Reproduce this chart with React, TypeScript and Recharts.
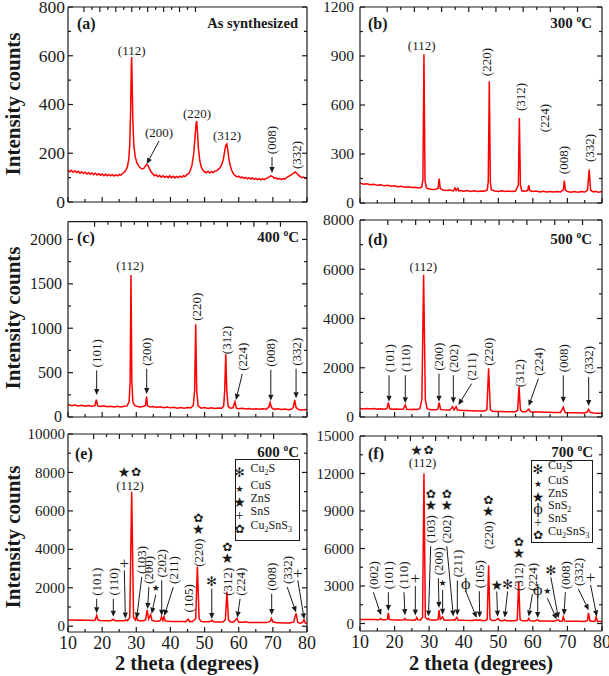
import React from 'react';
import { ComposedChart, Line, XAxis, YAxis, ReferenceLine } from 'recharts';

const SERIF = '"Liberation Serif", "Times New Roman", Times, serif';
const SYM = '"DejaVu Sans", sans-serif';
const INK = '#1a1a1a';
const RED = '#ff0000';

// ---------- ticks ----------
const xTickValues = [10, 15, 20, 25, 30, 35, 40, 45, 50, 55, 60, 65, 70, 75, 80];
const xTickLabels = [10, 20, 30, 40, 50, 60, 70, 80];

const yTicksA = [0, 100, 200, 300, 400, 500, 600, 700, 800];
const yMajorsA = [0, 200, 400, 600, 800];
const yTicksB = [0, 150, 300, 450, 600, 750, 900, 1050, 1200];
const yMajorsB = [0, 300, 600, 900, 1200];
const yTicksC = [0, 250, 500, 750, 1000, 1250, 1500, 1750, 2000];
const yMajorsC = [0, 500, 1000, 1500, 2000];
const yTicksD = [0, 1000, 2000, 3000, 4000, 5000, 6000, 7000, 8000];
const yMajorsD = [0, 2000, 4000, 6000, 8000];
const yTicksE = [0, 1000, 2000, 3000, 4000, 5000, 6000, 7000, 8000, 9000, 10000];
const yMajorsE = [0, 2000, 4000, 6000, 8000, 10000];
const yTicksF = [0, 1500, 3000, 4500, 6000, 7500, 9000, 10500, 12000, 13500, 15000];
const yMajorsF = [0, 3000, 6000, 9000, 12000, 15000];

// ---------- patterns (2theta, counts) ----------
const patternAsSynth: [number, number][] = [
  [10, 132], [10.5, 124], [11, 130], [11.5, 122], [12, 128], [12.5, 121], [13, 126], [13.5, 118], [14, 124], [14.5, 117],
  [15, 122], [15.5, 115], [16, 121], [16.5, 114], [17, 119], [17.5, 112], [18, 118], [18.5, 111], [19, 116], [19.5, 110],
  [20, 115], [20.5, 108], [21, 114], [21.5, 108], [22, 113], [22.5, 107], [23, 112], [23.5, 106], [24, 111], [24.5, 107],
  [25, 113], [25.5, 110], [26, 117], [26.5, 122], [27, 132], [27.4, 145], [27.8, 175], [28.1, 240], [28.35, 380], [28.55, 560],
  [28.65, 595], [28.8, 480], [29.0, 330], [29.3, 230], [29.7, 185], [30.2, 160], [30.7, 148], [31.2, 140], [31.7, 136], [32.2, 138],
  [32.6, 146], [33.0, 154], [33.4, 150], [33.8, 138], [34.3, 125], [34.8, 116], [35.3, 108], [35.8, 112], [36.3, 104], [36.8, 109],
  [37.3, 102], [37.8, 108], [38.3, 101], [38.8, 106], [39.3, 100], [39.8, 107], [40.3, 100], [40.8, 106], [41.3, 99], [41.8, 105],
  [42.3, 100], [42.8, 106], [43.3, 101], [43.8, 108], [44.3, 104], [44.8, 112], [45.3, 116], [45.8, 128], [46.3, 150], [46.8, 195],
  [47.2, 265], [47.5, 320], [47.7, 332], [47.9, 290], [48.2, 220], [48.6, 170], [49.0, 145], [49.5, 130], [50.0, 124], [50.5, 120],
  [51.0, 126], [51.5, 119], [52.0, 125], [52.5, 120], [53.0, 127], [53.5, 128], [54.0, 134], [54.5, 140], [55.0, 152], [55.5, 175],
  [55.9, 210], [56.2, 232], [56.5, 238], [56.8, 215], [57.1, 180], [57.5, 150], [58.0, 128], [58.5, 115], [59.0, 108], [59.5, 103],
  [60, 106], [60.5, 99], [61, 103], [61.5, 97], [62, 101], [62.5, 95], [63, 100], [63.5, 94], [64, 99], [64.5, 93],
  [65, 97], [65.5, 92], [66, 96], [66.5, 91], [67, 95], [67.5, 92], [68, 97], [68.5, 98], [69, 104], [69.5, 107],
  [70, 103], [70.5, 97], [71, 99], [71.5, 93], [72, 97], [72.5, 92], [73, 96], [73.5, 94], [74, 100], [74.5, 104],
  [75, 108], [75.5, 112], [76, 118], [76.5, 123], [77, 118], [77.5, 110], [78, 104], [78.5, 100], [79, 102], [79.5, 97], [80, 99],
];

const pattern300: [number, number][] = [
  [10, 122], [11, 115], [12, 118], [13, 112], [14, 114], [15, 108], [16, 111], [17, 105], [18, 108], [19, 102],
  [20, 106], [21, 100], [22, 103], [23, 97], [24, 100], [25, 95], [26, 97], [27, 92], [27.8, 96], [28.2, 140],
  [28.5, 910], [28.8, 140], [29.2, 92], [30, 86], [31, 82], [32, 84], [32.6, 90], [32.9, 150], [33.2, 88], [34, 80],
  [35, 76], [36, 79], [37, 74], [37.5, 92], [37.8, 76], [38.3, 90], [38.6, 74], [39, 77], [40, 72], [41, 76],
  [42, 71], [43, 75], [44, 70], [45, 74], [46, 72], [46.8, 80], [47.1, 130], [47.4, 745], [47.7, 130], [48, 80],
  [49, 74], [50, 71], [51, 75], [52, 70], [53, 74], [54, 70], [55, 73], [55.8, 110], [56.1, 520], [56.4, 110],
  [56.8, 75], [57.5, 72], [58.5, 76], [58.8, 110], [59.1, 75], [60, 70], [61, 73], [62, 68], [63, 72], [64, 68],
  [65, 71], [66, 67], [67, 71], [68, 68], [68.8, 80], [69.1, 138], [69.4, 80], [70, 70], [71, 66], [72, 70],
  [73, 66], [74, 70], [75, 67], [75.8, 78], [76.3, 205], [76.7, 78], [77.5, 68], [78, 72], [79, 66], [80, 70],
];

const pattern400: [number, number][] = [
  [10, 140], [11, 128], [12, 136], [13, 125], [14, 133], [15, 122], [16, 130], [17, 120], [17.9, 128], [18.3, 195],
  [18.7, 125], [19.5, 118], [20.5, 126], [21.5, 115], [22.5, 122], [23.5, 113], [24.5, 120], [25.5, 112], [26.5, 120], [27.3, 125],
  [27.9, 170], [28.2, 400], [28.45, 1600], [28.7, 400], [29.0, 170], [29.5, 130], [30.2, 120], [31, 114], [32, 118], [32.7, 130],
  [33.0, 230], [33.3, 130], [34, 112], [35, 118], [36, 108], [37, 115], [38, 105], [39, 112], [40, 103], [41, 110],
  [42, 100], [43, 108], [44, 100], [45, 106], [46, 104], [46.7, 130], [47.1, 300], [47.4, 1045], [47.7, 300], [48.1, 125],
  [49, 100], [50, 106], [51, 97], [52, 104], [53, 96], [54, 102], [55, 98], [55.6, 125], [55.9, 300], [56.2, 710],
  [56.5, 300], [56.9, 120], [57.5, 98], [58.3, 104], [58.9, 172], [59.3, 100], [60, 92], [61, 98], [62, 90], [63, 96],
  [64, 88], [65, 94], [66, 87], [67, 92], [68, 88], [68.8, 110], [69.2, 162], [69.6, 105], [70.5, 86], [71.5, 92],
  [72.5, 84], [73.5, 90], [74.5, 82], [75.5, 90], [76.0, 110], [76.4, 192], [76.8, 105], [77.5, 85], [78.5, 80], [79.5, 84], [80, 78],
];

const pattern500: [number, number][] = [
  [10, 350], [11, 330], [12, 345], [13, 325], [14, 340], [15, 320], [16, 335], [17, 318], [17.8, 340], [18.2, 585],
  [18.6, 335], [19.5, 315], [20.5, 328], [21.5, 310], [22.5, 322], [23.1, 490], [23.5, 315], [24.5, 305], [25.5, 318], [26.5, 305],
  [27.3, 340], [27.9, 700], [28.4, 5780], [28.9, 700], [29.4, 340], [30.2, 300], [31, 295], [32, 290], [32.5, 320], [32.9, 585],
  [33.3, 310], [34, 290], [35, 285], [36, 280], [36.8, 420], [37.2, 285], [37.8, 420], [38.2, 280], [39, 272], [40, 265],
  [41, 260], [42, 255], [43, 250], [44, 245], [45, 240], [46, 240], [46.7, 300], [47.2, 1980], [47.7, 300], [48.3, 230],
  [49, 225], [50, 220], [51, 222], [52, 215], [53, 218], [54, 212], [55, 215], [55.6, 280], [56.0, 1235], [56.4, 280],
  [57, 215], [58, 210], [58.8, 315], [59.3, 210], [60, 205], [61, 200], [62, 198], [63, 195], [64, 190], [65, 188],
  [66, 185], [67, 182], [68, 180], [68.8, 395], [69.3, 180], [70, 175], [71, 172], [72, 170], [73, 168], [74, 165],
  [75, 165], [75.7, 200], [76.1, 315], [76.6, 190], [77.5, 160], [78.5, 155], [79.5, 152], [80, 150],
];

const pattern600: [number, number][] = [
  [10, 330], [11, 320], [12, 325], [13, 315], [14, 318], [15, 305], [16, 310], [17.5, 300], [18.0, 340], [18.4, 570],
  [18.8, 320], [19.5, 295], [20.5, 290], [21.5, 285], [22.5, 290], [23.3, 360], [23.8, 285], [24.5, 280], [25.5, 285], [26.5, 290],
  [27, 335], [27.4, 290], [28.1, 450], [28.65, 7000], [29.2, 450], [29.7, 320], [30.0, 500], [30.4, 310], [31, 290], [32, 285],
  [32.7, 320], [33.2, 845], [33.6, 380], [34.2, 600], [34.6, 300], [35.5, 270], [36.5, 265], [37.1, 300], [37.4, 500], [37.8, 300],
  [38.1, 490], [38.5, 265], [39.5, 255], [40.5, 250], [41.5, 245], [42.5, 240], [43.5, 240], [44.5, 238], [45.2, 360], [45.6, 240],
  [46.5, 245], [47.4, 400], [47.9, 3100], [48.4, 400], [49, 240], [50, 232], [51, 228], [51.8, 260], [52.2, 310], [52.6, 230],
  [53.5, 225], [54.5, 222], [55.5, 230], [56.1, 350], [56.55, 1800], [57.0, 330], [57.6, 220], [58.5, 215], [59.5, 410], [60, 210],
  [61, 205], [62, 230], [63, 200], [64, 198], [65, 195], [66, 192], [67, 190], [68, 188], [69.2, 250], [69.6, 410],
  [70.0, 230], [71, 180], [72, 175], [73, 172], [74, 170], [75, 168], [76.1, 220], [76.8, 670], [77.3, 200], [78, 160],
  [78.7, 200], [79.1, 335], [79.5, 160], [80, 150],
];

const pattern700: [number, number][] = [
  [10, 330], [11, 320], [12, 325], [13, 315], [14, 318], [15, 305], [15.7, 320], [16.0, 400], [16.3, 305], [17, 298],
  [17.9, 330], [18.2, 850], [18.5, 320], [19.5, 290], [20.5, 285], [21.5, 280], [22.7, 300], [23.0, 400], [23.3, 290], [24.5, 275],
  [25.5, 270], [26.1, 300], [26.4, 480], [26.7, 290], [27.5, 280], [28.1, 500], [28.5, 12000], [28.9, 500], [29.5, 320], [29.8, 400],
  [30.1, 300], [31, 280], [32, 275], [32.6, 320], [32.85, 1070], [33.2, 330], [33.9, 530], [34.3, 270], [35.5, 265], [36.6, 270],
  [37.0, 320], [37.4, 260], [38.0, 480], [38.4, 260], [39.5, 255], [40.5, 250], [41.5, 248], [42.5, 245], [43.7, 300], [44.1, 240],
  [44.7, 300], [45.1, 240], [46.4, 240], [46.8, 350], [47.2, 4660], [47.6, 350], [48.2, 235], [49, 232], [50.0, 400], [50.4, 230],
  [51.3, 228], [51.85, 300], [52.3, 225], [53.5, 222], [55, 225], [55.5, 300], [55.9, 3380], [56.3, 300], [57, 215], [58.4, 215],
  [58.8, 400], [59.2, 212], [60.5, 205], [61.4, 300], [61.8, 200], [63, 198], [64.5, 192], [66, 190], [66.9, 250], [67.4, 300],
  [67.8, 185], [68.5, 200], [68.8, 530], [69.2, 190], [70.5, 180], [72, 175], [73.5, 172], [75, 170], [75.8, 250], [76.1, 850],
  [76.5, 220], [77.5, 168], [78.0, 200], [78.3, 530], [78.7, 170], [79.5, 160], [80, 150],
];

// ---------- peak annotations (label centre and arrow tip, in data units) ----------
type Ann = { t?: string; m?: string; r?: boolean; s?: string[]; x: number; y: number; tx?: number; ty?: number };

const annA: Ann[] = [
  { t: '(112)', x: 28.65, y: 623 },
  { t: '(200)', x: 36.65, y: 287, tx: 33.05, ty: 156 },
  { t: '(220)', x: 47.8, y: 365 },
  { t: '(312)', x: 56.6, y: 271 },
  { t: '(008)', r: true, x: 69.75, y: 254, tx: 69.75, ty: 119 },
  { t: '(332)', r: true, x: 76.8, y: 193 },
];
const annB: Ann[] = [
  { t: '(112)', x: 27.85, y: 967 },
  { t: '(220)', r: true, x: 46.65, y: 863 },
  { t: '(312)', r: true, x: 56.3, y: 649 },
  { t: '(224)', r: true, x: 63.5, y: 520 },
  { t: '(008)', r: true, x: 69.0, y: 263 },
  { t: '(332)', r: true, x: 76.5, y: 337 },
];
const annC: Ann[] = [
  { t: '(112)', x: 28.16, y: 1712 },
  { t: '(101)', r: true, x: 18.4, y: 717, tx: 18.4, ty: 248 },
  { t: '(200)', r: true, x: 33.05, y: 735, tx: 33.05, ty: 260 },
  { t: '(220)', r: true, x: 47.7, y: 1242 },
  { t: '(312)', r: true, x: 56.5, y: 867 },
  { t: '(224)', r: true, x: 61.05, y: 679, tx: 59.2, ty: 191 },
  { t: '(008)', r: true, x: 69.4, y: 724, tx: 69.4, ty: 184 },
  { t: '(332)', r: true, x: 76.8, y: 735, tx: 76.8, ty: 210 },
];
const annD: Ann[] = [
  { t: '(112)', x: 28.3, y: 6110 },
  { t: '(101)', r: true, x: 18.4, y: 2385, tx: 18.4, ty: 622 },
  { t: '(110)', r: true, x: 23.1, y: 2385, tx: 23.1, ty: 557 },
  { t: '(200)', r: true, x: 32.85, y: 2451, tx: 32.85, ty: 622 },
  { t: '(202)', r: true, x: 37.0, y: 2385, tx: 37.0, ty: 557 },
  { t: '(211)', r: true, x: 42.3, y: 2045, tx: 38.45, ty: 488 },
  { t: '(220)', r: true, x: 47.1, y: 2654 },
  { t: '(312)', r: true, x: 56.0, y: 1776 },
  { t: '(224)', r: true, x: 61.6, y: 2248, tx: 58.8, ty: 447 },
  { t: '(008)', r: true, x: 68.8, y: 2385, tx: 68.8, ty: 583 },
  { t: '(332)', r: true, x: 76.15, y: 2317, tx: 76.15, ty: 447 },
];
const annE: Ann[] = [
  { t: '(112)', x: 28.16, y: 7346, s: ['ZnS', 'CTS'] },
  { t: '(101)', r: true, x: 18.4, y: 2316, tx: 18.4, ty: 671 },
  { t: '(110)', r: true, x: 23.27, y: 2316, tx: 23.27, ty: 494 },
  { m: 'SnS', x: 26.5, y: 3273, tx: 26.8, ty: 400 },
  { t: '(103)', r: true, x: 31.6, y: 3444, tx: 30.1, ty: 400 },
  { t: '(200)', r: true, x: 33.7, y: 2924, tx: 33.3, ty: 900 },
  { m: 'CuS', x: 35.7, y: 2003, tx: 34.5, ty: 650 },
  { t: '(202)', r: true, x: 37.44, y: 3273, tx: 37.44, ty: 540 },
  { t: '(211)', r: true, x: 40.84, y: 2924, tx: 38.2, ty: 540 },
  { t: '(105)', r: true, x: 45.24, y: 1452, tx: 45.24, ty: 400 },
  { t: '(220)', r: true, x: 48.17, y: 3825, s: ['ZnS', 'CTS'] },
  { m: 'Cu2S', x: 52.1, y: 2316, tx: 52.1, ty: 370 },
  { t: '(312)', r: true, x: 56.66, y: 2316, s: ['ZnS', 'CTS'] },
  { t: '(224)', r: true, x: 60.4, y: 2316, tx: 59.6, ty: 450 },
  { t: '(008)', r: true, x: 69.66, y: 2575, tx: 69.66, ty: 583 },
  { t: '(332)', r: true, x: 74.2, y: 2924, tx: 76.8, ty: 720 },
  { m: 'SnS', x: 77.3, y: 2752, tx: 79.2, ty: 360 },
];
const annF: Ann[] = [
  { t: '(112)', x: 28.1, y: 12880, s: ['ZnS', 'CTS'] },
  { t: '(002)', r: true, x: 13.86, y: 3864, tx: 16.1, ty: 664 },
  { t: '(101)', r: true, x: 18.2, y: 3864, tx: 18.2, ty: 1000 },
  { t: '(110)', r: true, x: 22.73, y: 3864, tx: 23.0, ty: 664 },
  { m: 'SnS', x: 26.0, y: 3568, tx: 26.0, ty: 640 },
  { t: '(103)', r: true, x: 30.45, y: 7544, s: ['ZnS', 'CTS'], tx: 29.8, ty: 560 },
  { t: '(200)', r: true, x: 32.66, y: 4984, tx: 32.86, ty: 1250 },
  { m: 'CuS', x: 33.9, y: 3248, tx: 33.9, ty: 700 },
  { t: '(202)', r: true, x: 35.1, y: 7544, s: ['ZnS', 'CTS'], tx: 37.0, ty: 560 },
  { t: '(211)', r: true, x: 38.15, y: 4800, tx: 38.15, ty: 640 },
  { m: 'SnS2', x: 40.58, y: 3144, tx: 43.75, ty: 450 },
  { t: '(105)', r: true, x: 44.5, y: 3944, tx: 44.6, ty: 480 },
  { t: '(220)', r: true, x: 47.13, y: 7064, s: ['ZnS', 'CTS'] },
  { m: 'ZnS', x: 49.55, y: 3120, tx: 49.8, ty: 550 },
  { m: 'Cu2S', x: 52.7, y: 3120, tx: 51.85, ty: 480 },
  { t: '(312)', r: true, x: 55.9, y: 3728, s: ['ZnS', 'CTS'] },
  { t: '(224)', r: true, x: 59.87, y: 3728, tx: 58.8, ty: 560 },
  { m: 'SnS2', x: 61.4, y: 2720, tx: 61.4, ty: 450 },
  { m: 'CuS', x: 64.2, y: 2584, tx: 66.9, ty: 330 },
  { m: 'Cu2S', x: 65.2, y: 4264, tx: 67.4, ty: 420 },
  { t: '(008)', r: true, x: 69.4, y: 3864, tx: 69.0, ty: 664 },
  { t: '(332)', r: true, x: 73.15, y: 4128, tx: 76.15, ty: 1064 },
  { m: 'SnS', x: 76.7, y: 3648, tx: 78.5, ty: 560 },
];

// phase symbols
const SYMBOLS: Record<string, { g: string; size: number; font: string }> = {
  Cu2S: { g: '\u273B', size: 13, font: SYM },
  CuS: { g: '\u2605', size: 9, font: SYM },
  ZnS: { g: '\u2605', size: 14, font: SYM },
  SnS2: { g: '\u03D5', size: 14, font: '"DejaVu Serif", serif' },
  SnS: { g: '+', size: 17, font: SERIF },
  CTS: { g: '\u273F', size: 12, font: SYM },
};

const legendE = ['Cu2S', 'CuS', 'ZnS', 'SnS', 'CTS'];
const legendF = ['Cu2S', 'CuS', 'ZnS', 'SnS2', 'SnS', 'CTS'];

// ---------- components ----------
function AnnMark(props: any) {
  const { x1, y1, x2, y2, a } = props;
  if (typeof x1 !== 'number' || isNaN(x1)) return null;
  const parts: React.ReactNode[] = [];
  let sy = y1;
  if (a.m) {
    const s = SYMBOLS[a.m];
    parts.push(
      <text key="m" x={x1} y={y1} textAnchor="middle" dominantBaseline="central" fontSize={s.size} fontFamily={s.font} fill={INK}>
        {s.g}
      </text>
    );
    sy = y1 + 7;
  } else if (a.r) {
    parts.push(
      <text key="t" x={x1} y={y1} transform={`rotate(-90 ${x1} ${y1})`} textAnchor="middle" dominantBaseline="central" fontSize={13} fontFamily={SERIF} fill={INK}>
        {a.t}
      </text>
    );
    (a.s || []).forEach((k: string, i: number) => {
      const s = SYMBOLS[k];
      parts.push(
        <text key={'s' + i} x={x1} y={y1 - 24 - 11 * i} textAnchor="middle" dominantBaseline="central" fontSize={s.size} fontFamily={s.font} fill={INK}>
          {s.g}
        </text>
      );
    });
    sy = y1 + 17;
  } else {
    parts.push(
      <text key="t" x={x1} y={y1} textAnchor="middle" dominantBaseline="central" fontSize={13} fontFamily={SERIF} fill={INK}>
        {a.t}
      </text>
    );
    (a.s || []).forEach((k: string, i: number) => {
      const s = SYMBOLS[k];
      parts.push(
        <text key={'s' + i} x={x1 - 6 + 12 * i} y={y1 - 13} textAnchor="middle" dominantBaseline="central" fontSize={s.size} fontFamily={s.font} fill={INK}>
          {s.g}
        </text>
      );
    });
    sy = y1 + 9;
  }
  if (a.tx !== undefined) {
    const dx = x2 - x1;
    const dy = y2 - sy;
    const L = Math.hypot(dx, dy);
    if (L > 4) {
      const ux = dx / L;
      const uy = dy / L;
      const hl = 6;
      const hw = 2.6;
      const bx = x2 - ux * hl;
      const by = y2 - uy * hl;
      parts.push(<line key="l" x1={x1} y1={sy} x2={bx} y2={by} stroke={INK} strokeWidth={1} />);
      parts.push(
        <polygon key="h" points={`${x2},${y2} ${bx - uy * hw},${by + ux * hw} ${bx + uy * hw},${by - ux * hw}`} fill={INK} />
      );
    }
  }
  return <g>{parts}</g>;
}

function XTick(props: any) {
  const { x, y, payload, labels, top } = props;
  const v = payload.value;
  const major = v % 10 === 0;
  const len = major ? 5 : 3;
  return (
    <g>
      <line x1={x} x2={x} y1={y} y2={top ? y + len : y - len} stroke={INK} strokeWidth={1.2} />
      {labels && !top && xTickLabels.includes(v) ? (
        <text x={x} y={y + 16.5} textAnchor="middle" fontSize={18} fontFamily={SERIF} fill={INK}>
          {v}
        </text>
      ) : null}
    </g>
  );
}

function YTick(props: any) {
  const { x, y, payload, majors, fontSize, gap, right } = props;
  const v = payload.value;
  const major = majors.includes(v);
  const len = major ? 5 : 3;
  return (
    <g>
      <line x1={x} x2={right ? x - len : x + len} y1={y} y2={y} stroke={INK} strokeWidth={1.2} />
      {!right && major ? (
        <text x={x - gap} y={y} dy="0.34em" textAnchor="end" fontSize={fontSize} fontFamily={SERIF} fill={INK}>
          {v}
        </text>
      ) : null}
    </g>
  );
}

type PanelProps = {
  points: [number, number][];
  ann: Ann[];
  yDomain: [number, number];
  yTicks: number[];
  yMajors: number[];
  yFont: number;
  yGap: number;
  xLabels: boolean;
  left: number;
  top: number;
  width: number;
  height: number;
  margin: { top: number; right: number; bottom: number; left: number };
};

function Panel(p: PanelProps) {
  const data = p.points.map(([x, y]) => ({ x, y }));
  const axisLine = { stroke: INK, strokeWidth: 1.2 };
  return (
    <div style={{ position: 'absolute', left: p.left, top: p.top }}>
      <ComposedChart width={p.width} height={p.height} data={data} margin={p.margin}>
        <XAxis
          dataKey="x"
          type="number"
          domain={[10, 80]}
          ticks={xTickValues}
          interval={0}
          allowDataOverflow
          height={1}
          tickSize={0}
          tickMargin={0}
          axisLine={axisLine}
          tickLine={false}
          tick={(tp: any) => <XTick {...tp} labels={p.xLabels} />}
        />
        <XAxis
          xAxisId="top"
          orientation="top"
          type="number"
          domain={[10, 80]}
          ticks={xTickValues}
          interval={0}
          allowDataOverflow
          height={1}
          tickSize={0}
          tickMargin={0}
          axisLine={axisLine}
          tickLine={false}
          tick={(tp: any) => <XTick {...tp} top />}
        />
        <YAxis
          type="number"
          domain={p.yDomain}
          ticks={p.yTicks}
          interval={0}
          allowDataOverflow
          width={1}
          tickSize={0}
          tickMargin={0}
          axisLine={axisLine}
          tickLine={false}
          tick={(tp: any) => <YTick {...tp} majors={p.yMajors} fontSize={p.yFont} gap={p.yGap} />}
        />
        <YAxis
          yAxisId="right"
          orientation="right"
          type="number"
          domain={p.yDomain}
          ticks={p.yTicks}
          interval={0}
          allowDataOverflow
          width={1}
          tickSize={0}
          tickMargin={0}
          axisLine={axisLine}
          tickLine={false}
          tick={(tp: any) => <YTick {...tp} majors={p.yMajors} right />}
        />
        <Line type="linear" dataKey="y" stroke={RED} strokeWidth={1.5} dot={false} isAnimationActive={false} />
        {p.ann.map((a, i) => (
          <ReferenceLine
            key={i}
            segment={[
              { x: a.x, y: a.y },
              { x: a.tx ?? a.x, y: a.ty ?? a.y },
            ]}
            shape={(sp: any) => <AnnMark {...sp} a={a} />}
          />
        ))}
      </ComposedChart>
    </div>
  );
}

function Chem({ name }: { name: string }) {
  const parts: Record<string, [string, boolean][]> = {
    Cu2S: [['Cu', false], ['2', true], ['S', false]],
    CuS: [['CuS', false]],
    ZnS: [['ZnS', false]],
    SnS2: [['SnS', false], ['2', true]],
    SnS: [['SnS', false]],
    CTS: [['Cu', false], ['2', true], ['SnS', false], ['3', true]],
  };
  let prevSub = false;
  return (
    <>
      {parts[name].map(([s, sub], i) => {
        const dy = sub && !prevSub ? 3 : !sub && prevSub ? -3 : 0;
        prevSub = sub;
        return (
          <tspan key={i} dy={dy} fontSize={sub ? 8 : 12}>
            {s}
          </tspan>
        );
      })}
    </>
  );
}

function LegendBox({ x, y, w, h, items, ys, symX, textX }: any) {
  return (
    <g>
      <rect x={x} y={y} width={w} height={h} fill="#fff" stroke={INK} strokeWidth={1} />
      {items.map((k: string, i: number) => {
        const s = SYMBOLS[k];
        return (
          <g key={k}>
            <text x={symX} y={ys[i]} textAnchor="middle" dominantBaseline="central" fontSize={Math.min(s.size, 14)} fontFamily={s.font} fill={INK}>
              {s.g}
            </text>
            <text x={textX} y={ys[i]} dy="0.34em" fontFamily={SERIF} fontSize={12} fill={INK}>
              <Chem name={k} />
            </text>
          </g>
        );
      })}
    </g>
  );
}

function Title({ x, y, text, temp }: { x: number; y: number; text: string; temp?: boolean }) {
  if (!temp) {
    return (
      <text x={x} y={y} textAnchor="end" dominantBaseline="central" fontFamily={SERIF} fontWeight="bold" fontSize={14.5} fill={INK}>
        {text}
      </text>
    );
  }
  return (
    <text x={x} y={y} dy="0.34em" textAnchor="end" fontFamily={SERIF} fontWeight="bold" fontSize={15} fill={INK}>
      {text + ' '}
      <tspan fontSize={9.5} dy={-6}>o</tspan>
      <tspan dy={6}>C</tspan>
    </text>
  );
}

export default function App() {
  const letters = [
    { t: '(a)', x: 77, y: 23 },
    { t: '(b)', x: 368, y: 23 },
    { t: '(c)', x: 77, y: 237 },
    { t: '(d)', x: 368, y: 239 },
    { t: '(e)', x: 75, y: 453 },
    { t: '(f)', x: 368, y: 453 },
  ];
  return (
    <div style={{ position: 'absolute', left: 0, top: 0, width: 609, height: 676, background: '#fff', overflow: 'hidden' }}>
      <Panel points={patternAsSynth} ann={annA} yDomain={[0, 800]} yTicks={yTicksA} yMajors={yMajorsA} yFont={17.5} yGap={3}
        xLabels={false} left={0} top={0} width={320} height={215} margin={{ top: 6, right: 12, bottom: 12, left: 67 }} />
      <Panel points={pattern300} ann={annB} yDomain={[0, 1200]} yTicks={yTicksB} yMajors={yMajorsB} yFont={15.5} yGap={6}
        xLabels={false} left={300} top={0} width={309} height={215} margin={{ top: 6, right: 6, bottom: 11, left: 59 }} />
      <Panel points={pattern400} ann={annC} yDomain={[0, 2200]} yTicks={yTicksC} yMajors={yMajorsC} yFont={16} yGap={6}
        xLabels={false} left={0} top={210} width={320} height={220} margin={{ top: 10.7, right: 12, bottom: 12, left: 67 }} />
      <Panel points={pattern500} ann={annD} yDomain={[0, 8000]} yTicks={yTicksD} yMajors={yMajorsD} yFont={15.5} yGap={6}
        xLabels={false} left={300} top={210} width={309} height={220} margin={{ top: 9, right: 6, bottom: 12, left: 59 }} />
      <Panel points={pattern600} ann={annE} yDomain={[-300, 10000]} yTicks={yTicksE} yMajors={yMajorsE} yFont={15} yGap={3}
        xLabels={true} left={0} top={420} width={320} height={256} margin={{ top: 13, right: 12, bottom: 43, left: 67 }} />
      <Panel points={pattern700} ann={annF} yDomain={[-600, 15000]} yTicks={yTicksF} yMajors={yMajorsF} yFont={15} yGap={6}
        xLabels={true} left={300} top={420} width={309} height={256} margin={{ top: 15, right: 6, bottom: 44, left: 59 }} />

      <svg width={609} height={676} style={{ position: 'absolute', left: 0, top: 0, pointerEvents: 'none' }}>
        {[104, 318, 537].map((cy) => (
          <text key={cy} x={13} y={cy} transform={`rotate(-90 13 ${cy})`} textAnchor="middle" dominantBaseline="central"
            fontFamily={SERIF} fontWeight="bold" fontSize={21} fill={INK}>
            Intensity counts
          </text>
        ))}
        {[187, 481].map((cx) => (
          <text key={cx} x={cx} y={663} textAnchor="middle" dominantBaseline="central" fontFamily={SERIF} fontWeight="bold" fontSize={20.5} fill={INK}>
            2 theta (degrees)
          </text>
        ))}
        {letters.map((l) => (
          <text key={l.t} x={l.x} y={l.y} dominantBaseline="central" fontFamily={SERIF} fontWeight="bold" fontSize={16} fill={INK}>
            {l.t}
          </text>
        ))}
        <Title x={298} y={23} text="As synthesized" />
        <Title x={592} y={23} text="300" temp />
        <Title x={299} y={237} text="400" temp />
        <Title x={592} y={239} text="500" temp />
        <Title x={299} y={452} text="600" temp />
        <Title x={593} y={452} text="700" temp />
        <LegendBox x={235.5} y={459.5} w={64} h={81} items={legendE} ys={[472, 488.5, 502, 515, 529]} symX={239.5} textX={250.5} />
        <LegendBox x={531.5} y={460.5} w={61} h={82} items={legendF} ys={[469, 483.5, 497, 509, 522, 535]} symX={538} textX={548} />
      </svg>
    </div>
  );
}
